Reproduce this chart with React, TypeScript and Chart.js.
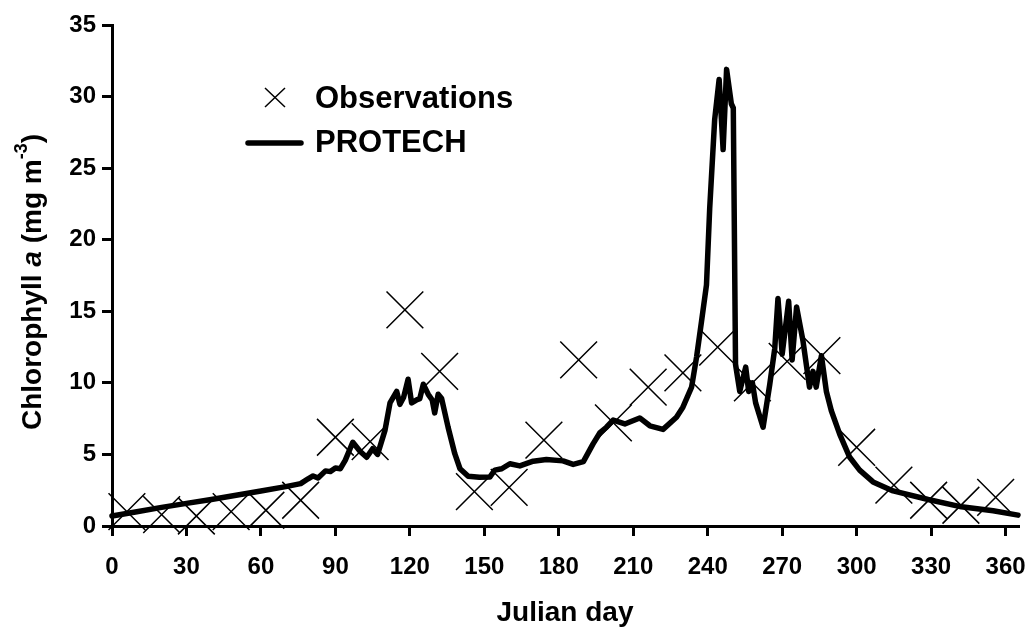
import React, { useEffect, useRef } from 'react';
import { Chart, registerables } from 'chart.js';

Chart.register(...registerables);

// Observed chlorophyll a (fortnightly samples)
const obsDays = [6, 20, 34, 48, 62, 76, 90, 104, 118, 132, 146, 160, 174, 188, 202, 216, 230, 244, 258, 272, 286, 300, 315, 329, 342, 356];
const obsChl = [1.0, 0.8, 0.7, 1.0, 1.1, 1.8, 6.2, 5.9, 15.1, 10.8, 2.4, 2.7, 6.0, 11.6, 7.2, 9.7, 10.7, 12.5, 10.0, 11.5, 11.9, 5.5, 2.85, 1.8, 1.45, 2.0];

// PROTECH simulated chlorophyll a
const modelDays = [
  0, 10, 20, 30, 40, 50, 60, 70, 76, 79, 81, 83, 86, 88, 90, 92, 94, 97, 100, 102.6,
  105, 107, 110, 112, 114.7, 116, 117.5, 119.3, 120.7, 122.6, 124, 125.4, 127.4, 129, 130, 131.4,
  132.8, 135.4, 138.1, 140.2, 143.5, 148, 152.2, 154.2, 157, 160.3, 164.3, 169.7, 175, 181.7,
  185.8, 189.9, 193.8, 196.5, 199.2, 201.9, 206.6, 212.6, 216.7, 222, 227.4, 230, 233.5, 235.5,
  237.5, 239.5, 240.8, 242.8, 244.6, 246.2, 247.6, 249.5, 250.3, 251.2, 252.9, 255.3, 256.5, 258,
  259.3, 262.3, 265, 267, 268.3, 270, 272.6, 274, 275.8, 278.4, 281, 282.4, 283.7, 285.8, 287.8,
  289.8, 293.2, 297.2, 301.2, 306.6, 314.7, 328.8, 342.2, 355, 365,
];
const modelChl = [
  0.7, 1.0, 1.3, 1.58, 1.85, 2.15, 2.45, 2.75, 2.96, 3.3, 3.5, 3.35, 3.85, 3.8, 4.05, 4.0, 4.6, 5.85, 5.2, 4.8,
  5.4, 5.0, 6.7, 8.6, 9.4, 8.5, 9.0, 10.25, 8.6, 8.8, 8.9, 9.9, 9.2, 8.8, 7.9, 9.2,
  8.9, 6.9, 5.05, 4.0, 3.47, 3.4, 3.42, 3.9, 4.0, 4.35, 4.2, 4.53, 4.65, 4.55,
  4.3, 4.5, 5.74, 6.5, 6.9, 7.4, 7.13, 7.55, 7.0, 6.75, 7.6, 8.3, 9.7, 11.8,
  14.3, 16.85, 22.2, 28.4, 31.2, 26.3, 31.9, 29.5, 29.2, 11.3, 9.4, 11.1, 9.4, 10.0,
  8.6, 6.9, 9.9, 12.4, 15.9, 12.0, 15.7, 11.6, 15.3, 12.9, 9.7, 10.8, 9.7, 11.9, 9.4,
  8.05, 6.4, 4.8, 3.9, 3.08, 2.45, 1.85, 1.34, 1.06, 0.76,
];

const xTickValues = [0, 30, 60, 90, 120, 150, 180, 210, 240, 270, 300, 330, 360];
const yTickValues = [0, 5, 10, 15, 20, 25, 30, 35];

const seriesNames = ['Observations', 'PROTECH'];
const xTitle = 'Julian day';

const FONT = '"Liberation Sans", Arial, Helvetica, sans-serif';

// Draws the rotated y-axis title (italic "a", superscript exponent) and the in-plot legend
const annotations = {
  id: 'annotations',
  afterDraw(chart: any) {
    const ctx = chart.ctx as CanvasRenderingContext2D;

    // y-axis title
    const parts = [
      { t: 'Chlorophyll ', f: `bold 28px ${FONT}`, dy: 0 },
      { t: 'a', f: `italic bold 28px ${FONT}`, dy: 0 },
      { t: ' (mg m', f: `bold 28px ${FONT}`, dy: 0 },
      { t: '-3', f: `bold 18px ${FONT}`, dy: -11 },
      { t: ')', f: `bold 28px ${FONT}`, dy: 0 },
    ];
    ctx.save();
    let total = 0;
    for (const p of parts) {
      ctx.font = p.f;
      total += ctx.measureText(p.t).width;
    }
    ctx.translate(33, 282);
    ctx.rotate(-Math.PI / 2);
    ctx.fillStyle = '#000';
    ctx.textBaseline = 'middle';
    ctx.textAlign = 'left';
    let x = -total / 2;
    for (const p of parts) {
      ctx.font = p.f;
      ctx.fillText(p.t, x, p.dy);
      x += ctx.measureText(p.t).width;
    }
    ctx.restore();

    // legend
    ctx.save();
    ctx.strokeStyle = '#000';
    ctx.lineWidth = 1.5;
    ctx.beginPath();
    ctx.moveTo(265, 88);
    ctx.lineTo(285, 107);
    ctx.moveTo(265, 107);
    ctx.lineTo(285, 88);
    ctx.stroke();
    ctx.lineWidth = 5.5;
    ctx.lineCap = 'round';
    ctx.beginPath();
    ctx.moveTo(248, 143);
    ctx.lineTo(301, 143);
    ctx.stroke();
    ctx.fillStyle = '#000';
    ctx.font = `bold 31px ${FONT}`;
    ctx.textBaseline = 'middle';
    ctx.textAlign = 'left';
    ctx.fillText(seriesNames[0], 315, 99);
    ctx.fillText(seriesNames[1], 315, 143);
    ctx.restore();
  },
};

export default function App() {
  const canvasRef = useRef<HTMLCanvasElement | null>(null);

  useEffect(() => {
    const canvas = canvasRef.current;
    if (!canvas) return;

    const chart = new Chart(canvas, {
      type: 'scatter',
      data: {
        datasets: [
          {
            label: seriesNames[1],
            type: 'line',
            data: modelDays.map((d, i) => ({ x: d, y: modelChl[i] })),
            borderColor: '#000',
            backgroundColor: '#000',
            borderWidth: 5.5,
            pointRadius: 0,
            tension: 0,
            borderJoinStyle: 'round',
            borderCapStyle: 'round',
            fill: false,
            clip: false,
          } as any,
          {
            label: seriesNames[0],
            data: obsDays.map((d, i) => ({ x: d, y: obsChl[i] })),
            pointStyle: 'crossRot',
            pointRadius: 26,
            pointHoverRadius: 26,
            borderColor: '#000',
            borderWidth: 1.5,
            clip: false,
          } as any,
        ],
      },
      options: {
        responsive: false,
        animation: false,
        events: [],
        layout: { autoPadding: false, padding: { top: 25, right: 15, left: 0, bottom: 0 } },
        plugins: {
          legend: { display: false },
          tooltip: { enabled: false },
        },
        scales: {
          x: {
            type: 'linear',
            min: 0,
            max: 365,
            afterBuildTicks: (scale: any) => {
              scale.ticks = xTickValues.map((v) => ({ value: v }));
            },
            afterFit: (scale: any) => {
              scale.height = 111;
              scale.paddingLeft = 0;
              scale.paddingRight = 0;
            },
            border: { display: true, color: '#000', width: 3 },
            grid: { display: true, drawOnChartArea: false, drawTicks: true, tickLength: 10, lineWidth: 3, color: '#000' },
            ticks: {
              color: '#000',
              font: { family: FONT, size: 24, weight: 'bold' },
              padding: 17,
              maxRotation: 0,
              autoSkip: false,
            },
            title: {
              display: true,
              text: xTitle,
              color: '#000',
              font: { family: FONT, size: 28, weight: 'bold' },
              padding: { top: 0, bottom: 7 },
            },
          },
          y: {
            type: 'linear',
            min: 0,
            max: 35,
            afterBuildTicks: (scale: any) => {
              scale.ticks = yTickValues.map((v) => ({ value: v }));
            },
            afterFit: (scale: any) => {
              scale.width = 112;
              scale.paddingTop = 0;
              scale.paddingBottom = 0;
            },
            border: { display: true, color: '#000', width: 3 },
            grid: { display: true, drawOnChartArea: false, drawTicks: true, tickLength: 10, lineWidth: 3, color: '#000' },
            ticks: {
              color: '#000',
              font: { family: FONT, size: 24, weight: 'bold' },
              padding: 6,
            },
          },
        },
      },
      plugins: [annotations],
    });

    return () => chart.destroy();
  }, []);

  return (
    <div style={{ position: 'fixed', left: 0, top: 0, width: 1033, height: 637, background: '#fff' }}>
      <canvas ref={canvasRef} width={1033} height={637} style={{ display: 'block' }} />
    </div>
  );
}
